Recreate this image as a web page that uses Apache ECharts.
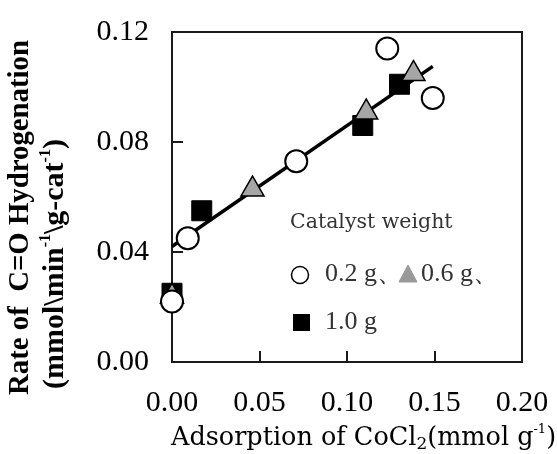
<!DOCTYPE html>
<html>
<head>
<meta charset="utf-8">
<script src="https://cdn.jsdelivr.net/npm/echarts@6/dist/echarts.min.js"></script>
<style>html,body{margin:0;padding:0;background:#fff;}#c{width:557px;height:454px;}</style>
</head>
<body>
<div id="c"></div>
<script>
// ---- data ----
const xTicks = [0.00, 0.05, 0.10, 0.15, 0.20];
const yTicks = [0.00, 0.04, 0.08, 0.12];
const seriesNames = ['0.2 g', '0.6 g', '1.0 g'];
const circleX = [0.000, 0.009, 0.071, 0.123, 0.149];
const circleY = [0.022, 0.045, 0.073, 0.114, 0.096];
const triX = [0.000, 0.046, 0.111, 0.138];
const triY = [0.025, 0.064, 0.092, 0.106];
const sqX = [0.000, 0.017, 0.109, 0.130];
const sqY = [0.025, 0.055, 0.086, 0.101];
const fitX = [0.000, 0.149];
const fitY = [0.042, 0.1075];

const zip = (a, b) => a.map((v, i) => [v, b[i]]);
const F = 'DejaVu Serif';
const T = '"Liberation Serif"';

// horizontal compression factor so a title fits a given length
function fitScale(pieces, target) {
  const ctx = document.createElement('canvas').getContext('2d');
  let w = 0;
  pieces.forEach(p => { ctx.font = p[1]; w += ctx.measureText(p[0]).width; });
  return Math.min(1, target / w);
}
const yT1 = 'Rate of  C=O Hydrogenation';
const s1 = fitScale([[yT1, 'bold 30px ' + T]], 355);
const s2 = fitScale([
  ['(mmol', 'bold 30px ' + T], ['\\', 'bold 30px ' + T], ['min', 'bold 30px ' + T], ['-1', 'bold 16px ' + T],
  ['\\', 'bold 30px ' + T], ['g-cat', 'bold 30px ' + T], ['-1', 'bold 16px ' + T], [')', 'bold 30px ' + T]
], 273);

const chart = echarts.init(document.getElementById('c'), null, {renderer: 'canvas'});
const option = {
  backgroundColor: '#fff',
  animation: false,
  grid: {left: 172, top: 32, width: 350, height: 330, show: true, borderColor: '#1a1a1a', borderWidth: 2, backgroundColor: 'transparent'},
  xAxis: {
    type: 'value', min: xTicks[0], max: xTicks[xTicks.length - 1], interval: 0.05,
    axisLine: {show: false},
    axisTick: {show: true, inside: true, length: 11, lineStyle: {color: '#1a1a1a', width: 2}},
    splitLine: {show: false},
    axisLabel: {margin: 26, fontFamily: 'Liberation Serif', fontSize: 30, color: '#000', formatter: v => v.toFixed(2)}
  },
  yAxis: {
    type: 'value', min: yTicks[0], max: yTicks[yTicks.length - 1], interval: 0.04,
    axisLine: {show: false},
    axisTick: {show: true, inside: true, length: 11, lineStyle: {color: '#1a1a1a', width: 2}},
    splitLine: {show: false},
    axisLabel: {margin: 23, fontFamily: 'Liberation Serif', fontSize: 30, color: '#000', formatter: v => v.toFixed(2)}
  },
  series: [
    {type: 'line', data: zip(fitX, fitY), showSymbol: false, symbol: 'none',
     lineStyle: {color: '#000', width: 3.5}, z: 2},
    {name: seriesNames[2], type: 'scatter', data: zip(sqX, sqY), symbol: 'rect', symbolSize: 20,
     itemStyle: {color: '#000', borderColor: '#000', borderWidth: 1, opacity: 1}, z: 3},
    {name: seriesNames[1], type: 'scatter', data: zip(triX, triY), symbol: 'triangle', symbolSize: [23, 20],
     itemStyle: {color: '#a6a6a6', borderColor: '#000', borderWidth: 1.5, opacity: 1}, z: 4},
    {name: seriesNames[0], type: 'scatter', data: zip(circleX, circleY), symbol: 'circle', symbolSize: 22,
     itemStyle: {color: '#fff', borderColor: '#000', borderWidth: 2, opacity: 1}, z: 5}
  ],
  graphic: [
    // y axis title (two lines, rotated)
    {type: 'text', x: 20, y: 395, rotation: Math.PI / 2, scaleX: s1, z: 10,
     style: {text: yT1, font: 'bold 30px ' + T, fill: '#000', align: 'left', verticalAlign: 'middle'}},
    {type: 'text', x: 55, y: 389, rotation: Math.PI / 2, scaleX: s2, z: 10,
     style: {text: '{a|(mmol}{b|\\}{a|min}{s|-1}{b|\\}{a|g-cat}{s|-1}{a|)}', align: 'left', verticalAlign: 'middle',
       rich: {
         a: {fontFamily: 'Liberation Serif', fontSize: 30, fontWeight: 'bold', color: '#000', lineHeight: 34},
         b: {fontFamily: 'Liberation Serif', fontSize: 30, fontWeight: 'bold', color: '#000', lineHeight: 34},
         s: {fontFamily: 'Liberation Serif', fontSize: 16, fontWeight: 'bold', color: '#000', verticalAlign: 'top', lineHeight: 34}
       }}},
    // x axis title
    {type: 'text', x: 171, y: 438, z: 10,
     style: {text: '{a|Adsorption of CoCl}{d|2}{a|(mmol g}{s|-1}{a|)}', align: 'left', verticalAlign: 'middle',
       rich: {
         a: {fontFamily: F, fontSize: 25.5, color: '#444', lineHeight: 30},
         d: {fontFamily: F, fontSize: 17, color: '#444', verticalAlign: 'bottom', lineHeight: 30},
         s: {fontFamily: F, fontSize: 13, color: '#444', verticalAlign: 'top', lineHeight: 30}
       }}},
    // legend
    {type: 'text', x: 290, y: 223, z: 10,
     style: {text: 'Catalyst weight', font: '20.5px ' + F, fill: '#333', align: 'left', verticalAlign: 'middle'}},
    {type: 'circle', shape: {cx: 300, cy: 275, r: 8.5}, z: 10,
     style: {fill: '#fff', stroke: '#000', lineWidth: 1.5}},
    {type: 'text', x: 325, y: 274, z: 10,
     style: {text: seriesNames[0] + '、', font: '26px ' + T, fill: '#333', align: 'left', verticalAlign: 'middle'}},
    {type: 'polygon', shape: {points: [[408, 265], [417, 282], [399, 282]]}, z: 10,
     style: {fill: '#999', stroke: '#999', lineWidth: 1}},
    {type: 'text', x: 421, y: 274, z: 10,
     style: {text: seriesNames[1] + '、', font: '26px ' + T, fill: '#333', align: 'left', verticalAlign: 'middle'}},
    {type: 'rect', shape: {x: 293, y: 314, width: 17, height: 17}, z: 10,
     style: {fill: '#000'}},
    {type: 'text', x: 325, y: 322, z: 10,
     style: {text: seriesNames[2], font: '26px ' + T, fill: '#333', align: 'left', verticalAlign: 'middle'}}
  ]
};
chart.setOption(option);
</script>
</body>
</html>
